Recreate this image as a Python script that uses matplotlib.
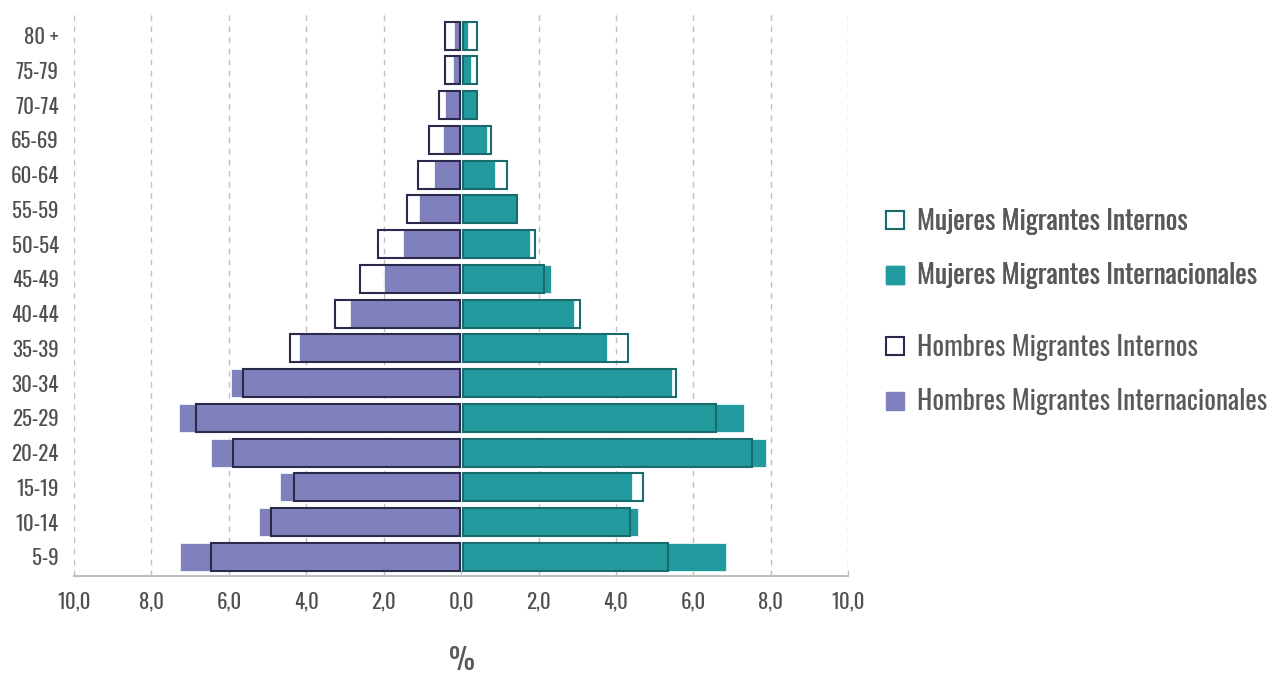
import numpy as np
import matplotlib
matplotlib.use('Agg')
import matplotlib.pyplot as plt
from matplotlib.patches import Patch

plt.rcParams['font.family'] = ['Oswald', 'DejaVu Sans']

# Age groups (bottom to top)
grupos = ['5-9', '10-14', '15-19', '20-24', '25-29', '30-34', '35-39', '40-44',
          '45-49', '50-54', '55-59', '60-64', '65-69', '70-74', '75-79', '80 +']

# Percent values
hombres_internac = [7.21, 5.19, 4.65, 6.43, 7.24, 5.90, 4.16, 2.82,
                    1.96, 1.45, 1.06, 0.67, 0.44, 0.37, 0.18, 0.15]
hombres_internos = [6.43, 4.87, 4.27, 5.85, 6.82, 5.60, 4.38, 3.21,
                    2.58, 2.10, 1.37, 1.08, 0.78, 0.54, 0.37, 0.37]
mujeres_internac = [6.80, 4.52, 4.37, 7.83, 7.26, 5.40, 3.72, 2.87,
                    2.27, 1.74, 1.39, 0.83, 0.62, 0.34, 0.21, 0.13]
mujeres_internos = [5.31, 4.33, 4.67, 7.48, 6.55, 5.51, 4.28, 3.04,
                    2.11, 1.88, 1.40, 1.15, 0.73, 0.36, 0.36, 0.36]

xticks = [-10, -8, -6, -4, -2, 0, 2, 4, 6, 8, 10]

c_purple = '#8080BC'
c_navy = '#2B2A4C'
c_teal = '#229B9E'
c_teal_dark = '#1A6B6B'
c_text = '#595959'

y = np.arange(len(grupos))
h = 0.8
gap = 0.04

fig = plt.figure(figsize=(12.81, 6.77), dpi=100)
ax = fig.add_axes([0.0578, 0.1492, 0.6044, 0.8331])

# filled bars (internacionales)
ax.barh(y, -np.array(hombres_internac), left=-gap, height=h, color=c_purple,
        edgecolor='white', linewidth=0.5, zorder=2)
ax.barh(y, mujeres_internac, left=gap, height=h, color=c_teal,
        edgecolor='white', linewidth=0.5, zorder=2)

# outline bars (internos)
ax.barh(y, -np.array(hombres_internos), left=-gap, height=h, fill=False,
        edgecolor=c_navy, linewidth=1.5, zorder=3)
ax.barh(y, mujeres_internos, left=gap, height=h, fill=False,
        edgecolor=c_teal_dark, linewidth=1.5, zorder=3)

ax.set_xlim(-10, 10)
ax.set_ylim(-0.55, 15.68)
ax.set_yticks(y)
ax.set_yticklabels(grupos)
ax.set_xticks(xticks)
ax.set_xticklabels([f'{abs(v):.1f}'.replace('.', ',') for v in xticks])

for v in xticks:
    if v != 0:
        ax.axvline(v, color='#BFBFBF', linestyle=(0, (4, 4)), linewidth=1, zorder=1)

for s in ['top', 'right', 'left']:
    ax.spines[s].set_visible(False)
ax.spines['bottom'].set_color('#BFBFBF')
ax.spines['bottom'].set_linewidth(1.5)
ax.tick_params(axis='y', length=0, pad=11, labelsize=15, labelcolor='#4F4F4F')
ax.tick_params(axis='x', direction='in', length=4, color='#BFBFBF', pad=11,
               labelsize=15, labelcolor='#4F4F4F')

fig.text(0.3608, 1 - 661 / 677, '%', ha='center', va='center', fontsize=21,
         fontweight='bold', color=c_text)

h1 = [Patch(facecolor='white', edgecolor=c_teal_dark, linewidth=1.5),
      Patch(facecolor=c_teal, edgecolor=c_teal)]
l1 = ['Mujeres Migrantes Internos', 'Mujeres Migrantes Internacionales']
h2 = [Patch(facecolor='white', edgecolor=c_navy, linewidth=1.5),
      Patch(facecolor=c_purple, edgecolor=c_purple)]
l2 = ['Hombres Migrantes Internos', 'Hombres Migrantes Internacionales']

leg_kw = dict(loc='center left', frameon=False, handlelength=0.65,
              handleheight=0.65, handletextpad=0.45, labelspacing=1.02,
              labelcolor=c_text, borderaxespad=0, borderpad=0,
              prop={'family': ['Oswald', 'DejaVu Sans'], 'weight': 'light', 'size': 19.7})
leg1 = fig.legend(h1, l1, bbox_to_anchor=(0.692, 1 - 248.5 / 677), **leg_kw)
fig.add_artist(leg1)
fig.legend(h2, l2, bbox_to_anchor=(0.692, 1 - 374.5 / 677), **leg_kw)

fig.savefig('out.png', dpi=100)
